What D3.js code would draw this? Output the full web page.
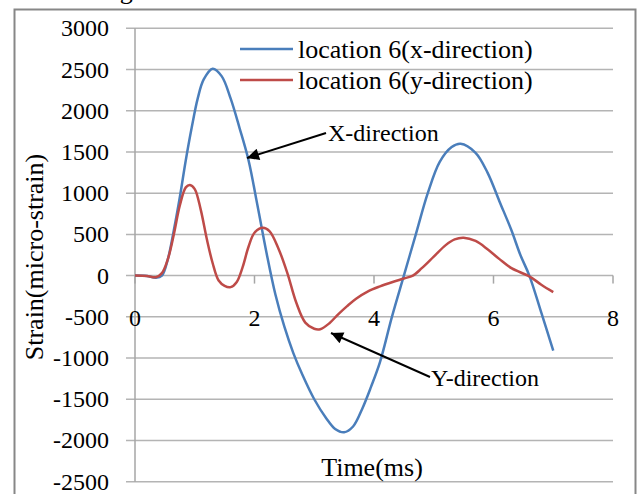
<!DOCTYPE html>
<html>
<head>
<meta charset="utf-8">
<script src="https://cdn.jsdelivr.net/npm/d3@7"></script>
<style>
	body { margin: 0; background: #fff; }
	svg { display: block; font-family: "Liberation Serif", "Times New Roman", serif; }
</style>
</head>
<body>
<svg id="chart" width="640" height="494"></svg>
<script>
// values (time in ms, strain in micro-strain)
const xDirTime = [0, 0.2, 0.35, 0.45, 0.55, 0.65, 0.75, 0.85, 0.95, 1.05, 1.15, 1.3, 1.45, 1.6, 1.75, 1.9, 2.05, 2.2, 2.35, 2.5, 2.65, 2.8, 3.0, 3.2, 3.35, 3.5, 3.65, 3.8, 3.95, 4.1, 4.3, 4.5, 4.7, 4.9, 5.1, 5.3, 5.45, 5.7, 5.9, 6.1, 6.3, 6.45, 6.6, 6.8, 7.0];
const xDirStrain = [0, -5, -25, 0, 200, 550, 950, 1400, 1800, 2150, 2380, 2510, 2420, 2150, 1790, 1400, 850, 280, -230, -620, -940, -1200, -1500, -1730, -1860, -1900, -1830, -1620, -1350, -1050, -500, 0, 500, 1000, 1380, 1560, 1600, 1490, 1250, 900, 550, 250, 0, -450, -910];

const yDirTime = [0, 0.2, 0.35, 0.45, 0.55, 0.65, 0.75, 0.85, 0.92, 1.0, 1.1, 1.2, 1.3, 1.4, 1.5, 1.6, 1.7, 1.8, 1.9, 2.0, 2.14, 2.25, 2.4, 2.55, 2.7, 2.85, 3.0, 3.1, 3.25, 3.4, 3.55, 3.7, 3.9, 4.1, 4.3, 4.5, 4.65, 4.8, 5.0, 5.2, 5.35, 5.5, 5.7, 5.9, 6.1, 6.3, 6.6, 6.8, 7.0];
const yDirStrain = [0, -5, -20, 30, 200, 500, 850, 1070, 1100, 1050, 800, 450, 150, -60, -125, -140, -80, 100, 350, 520, 580, 540, 330, 30, -330, -570, -645, -650, -580, -470, -370, -280, -190, -130, -80, -35, 0, 90, 230, 370, 440, 460, 420, 320, 200, 90, -10, -110, -200];

const seriesNames = ["location 6(x-direction)", "location 6(y-direction)"];
const seriesColors = ["#4a7ebb", "#be4b48"];

const yTicks = [3000, 2500, 2000, 1500, 1000, 500, 0, -500, -1000, -1500, -2000, -2500];
const xTicks = [0, 2, 4, 6, 8];

function whenDocumentLoaded(action) {
	if (document.readyState === "loading") {
		document.addEventListener("DOMContentLoaded", action);
	} else {
		action();
	}
}

function drawChart(svgId) {
	const svg = d3.select(`#${svgId}`);

	const x = d3.scaleLinear().domain([0, 8]).range([135, 613]);
	const y = d3.scaleLinear().domain([-2500, 3000]).range([481.7, 28.3]);

	// caption of the figure, mostly cut off at the top like the reference
	svg.append("text")
		.attr("x", 306)
		.attr("y", -1)
		.attr("text-anchor", "middle")
		.style("font-size", "26px")
		.text("Figure 14: Measured strain at location 6");

	// chart frame
	svg.append("rect")
		.attr("x", 14.5)
		.attr("y", 9.5)
		.attr("width", 621)
		.attr("height", 500)
		.attr("fill", "none")
		.attr("stroke", "#878787")
		.attr("stroke-width", 2);

	// gridlines (they also make the outside tick marks)
	svg.append("g")
		.selectAll("line")
		.data(yTicks)
		.join("line")
		.attr("x1", x(0) - 9)
		.attr("x2", x(8))
		.attr("y1", (d) => y(d))
		.attr("y2", (d) => y(d))
		.attr("stroke", "#b4b4b4")
		.attr("stroke-width", 1.5);

	// y axis line
	svg.append("line")
		.attr("x1", x(0))
		.attr("x2", x(0))
		.attr("y1", y(3000))
		.attr("y2", y(-2500))
		.attr("stroke", "#a6a6a6")
		.attr("stroke-width", 1.5);

	// x axis ticks hanging from zero line
	svg.append("g")
		.selectAll("line")
		.data(xTicks)
		.join("line")
		.attr("x1", (d) => x(d))
		.attr("x2", (d) => x(d))
		.attr("y1", y(0))
		.attr("y2", y(0) + 8)
		.attr("stroke", "#a6a6a6")
		.attr("stroke-width", 1.5);

	// tick labels
	svg.append("g")
		.style("font-size", "24px")
		.attr("text-anchor", "end")
		.selectAll("text")
		.data(yTicks)
		.join("text")
		.attr("x", 109)
		.attr("y", (d) => y(d) + 8)
		.text((d) => d);

	svg.append("g")
		.style("font-size", "24px")
		.attr("text-anchor", "middle")
		.selectAll("text")
		.data(xTicks)
		.join("text")
		.attr("x", (d) => x(d))
		.attr("y", 326)
		.text((d) => d);

	// axis titles
	svg.append("text")
		.attr("x", 372)
		.attr("y", 476)
		.attr("text-anchor", "middle")
		.style("font-size", "26px")
		.text("Time(ms)");

	svg.append("text")
		.attr("transform", "translate(43,257) rotate(-90)")
		.attr("text-anchor", "middle")
		.style("font-size", "26px")
		.text("Strain(micro-strain)");

	// the two series
	const line = d3.line()
		.x((d) => x(d[0]))
		.y((d) => y(d[1]))
		.curve(d3.curveCatmullRom.alpha(0.5));

	const series = [
		d3.zip(xDirTime, xDirStrain),
		d3.zip(yDirTime, yDirStrain),
	];

	svg.append("g")
		.selectAll("path")
		.data(series)
		.join("path")
		.attr("d", line)
		.attr("fill", "none")
		.attr("stroke", (d, i) => seriesColors[i])
		.attr("stroke-width", 2.5);

	// legend
	const legend = svg.append("g")
		.selectAll("g")
		.data(seriesNames)
		.join("g")
		.attr("transform", (d, i) => `translate(240,${49 + i * 31})`);
	legend.append("line")
		.attr("x1", 0)
		.attr("x2", 53)
		.attr("stroke", (d, i) => seriesColors[i])
		.attr("stroke-width", 2.5);
	legend.append("text")
		.attr("x", 58)
		.attr("y", 9)
		.style("font-size", "26px")
		.text((d) => d);

	// annotations with arrows
	svg.append("defs")
		.append("marker")
		.attr("id", "head")
		.attr("viewBox", "0 0 10 10")
		.attr("refX", 10)
		.attr("refY", 5)
		.attr("markerWidth", 7)
		.attr("markerHeight", 6)
		.attr("markerUnits", "strokeWidth")
		.attr("orient", "auto")
		.append("path")
		.attr("d", "M0,0L10,5L0,10Z")
		.attr("fill", "#000");

	const notes = [
		{ text: "X-direction", tx: 328, ty: 141, from: [326, 133], to: [247, 158] },
		{ text: "Y-direction", tx: 431, ty: 386, from: [430, 377], to: [331, 333] },
	];

	svg.append("g")
		.selectAll("line")
		.data(notes)
		.join("line")
		.attr("x1", (d) => d.from[0])
		.attr("y1", (d) => d.from[1])
		.attr("x2", (d) => d.to[0])
		.attr("y2", (d) => d.to[1])
		.attr("stroke", "#000")
		.attr("stroke-width", 2)
		.attr("marker-end", "url(#head)");

	svg.append("g")
		.style("font-size", "24px")
		.selectAll("text")
		.data(notes)
		.join("text")
		.attr("x", (d) => d.tx)
		.attr("y", (d) => d.ty)
		.text((d) => d.text);
}

whenDocumentLoaded(() => drawChart("chart"));
</script>
</body>
</html>
